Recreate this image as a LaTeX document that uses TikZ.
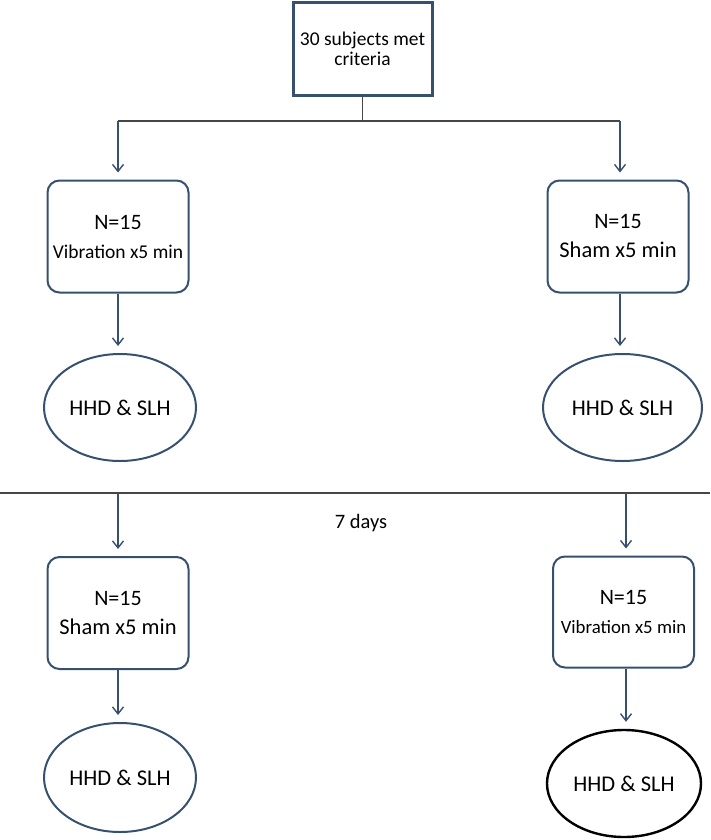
\documentclass[tikz,border=0pt]{standalone}
\usepackage{fontspec}
\setmainfont{Carlito}
\usetikzlibrary{arrows.meta,shapes.geometric}
\definecolor{boxblue}{RGB}{55,80,110}
\definecolor{linegray}{RGB}{70,70,70}
\begin{document}
\begin{tikzpicture}[x=1pt,y=-1pt,
  topbox/.style={draw=boxblue, line width=3pt, minimum width=139pt, minimum height=93pt, align=center, inner sep=0pt, font=\fontsize{19.5}{20.5}\selectfont},
  grpbox/.style={draw=boxblue, line width=2pt, rounded corners=12pt, minimum width=141pt, minimum height=112pt, align=center, inner sep=0pt},
  ovalnode/.style={ellipse, draw=boxblue, line width=2pt, inner sep=0pt, font=\fontsize{22.5}{27}\selectfont},
  connline/.style={draw=linegray, line width=1.2pt},
  arr/.style={draw=boxblue, line width=1.4pt, -{Straight Barb[length=7pt,width=11pt]}, shorten >=7pt},
  big/.style={font=\fontsize{22}{30}\selectfont}
  ]
\useasboundingbox (0,0) rectangle (710,840);
% top
\node[topbox] (top) at (362.5,49) {30 subjects met\\criteria};
\coordinate (split) at (362.5,121);
\coordinate (lt) at (118,121);
\coordinate (rt) at (620,121);
\draw[connline] (top.south) -- (split);
\draw[connline] (lt) -- (rt);
% first period
\node[grpbox, big] (b1) at (118,236.5) {N=15\\[-1pt]{\fontsize{19.5}{30}\selectfont Vibration x5 min}};
\node[grpbox, big] (b2) at (618,236.5) {N=15\\[-1pt]{\fontsize{22.5}{30}\selectfont Sham x5 min}};
\draw[arr] (lt) -- (b1.north);
\draw[arr] (rt) -- ([xshift=2pt]b2.north);
\node[ovalnode, minimum width=152pt, minimum height=107pt] (e1) at (120,407.5) {HHD \& SLH};
\node[ovalnode, minimum width=159pt, minimum height=107pt] (e2) at (622.5,407.5) {HHD \& SLH};
\draw[arr] (b1.south) -- ([xshift=-2pt]e1.north);
\draw[arr] ([xshift=2pt]b2.south) -- ([xshift=-2.5pt]e2.north);
% divider
\coordinate (dl) at (0,493);
\coordinate (dr) at (710,493);
\draw[connline] (dl) -- (dr);
\coordinate (al) at (118,493);
\coordinate (ar) at (626,493);
\node[font=\fontsize{20.5}{24}\selectfont] (days) at (361,523) {7 days};
% second period
\node[grpbox, big] (b3) at (118,613) {N=15\\[-1pt]{\fontsize{22.5}{30}\selectfont Sham x5 min}};
\node[grpbox, big, minimum height=111pt] (b4) at (623.5,612) {N=15\\[-1pt]{\fontsize{18.8}{30}\selectfont Vibration x5 min}};
\draw[arr] (al) -- (b3.north);
\draw[arr] (ar) -- ([xshift=2.5pt]b4.north);
\node[ovalnode, minimum width=152pt, minimum height=109pt] (e3) at (120,777.5) {HHD \& SLH};
\node[ovalnode, draw=black, line width=2.4pt, minimum width=154pt, minimum height=107pt] (e4) at (624,783.5) {HHD \& SLH};
\draw[arr] (b3.south) -- ([xshift=-2pt]e3.north);
\draw[arr] ([xshift=2.5pt]b4.south) -- ([xshift=2pt]e4.north);
\end{tikzpicture}
\end{document}
